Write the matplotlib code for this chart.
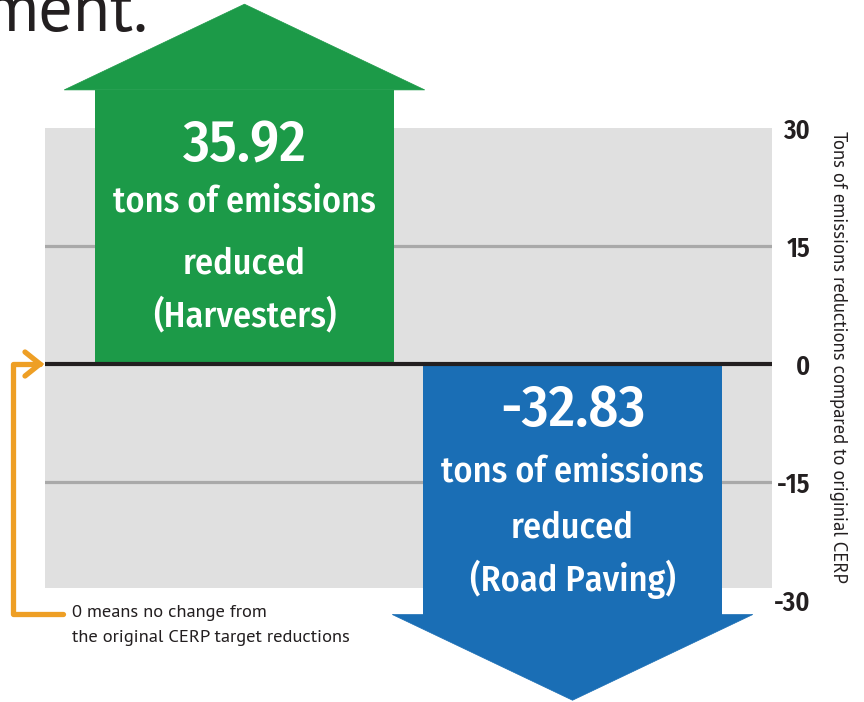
import matplotlib
matplotlib.use("Agg")
import matplotlib.pyplot as plt
from matplotlib.patches import Polygon, Rectangle
from matplotlib.transforms import blended_transform_factory
from matplotlib.lines import Line2D

# ---- data ----
categories = ["Harvesters", "Road Paving"]
values = [35.92, -32.83]
value_labels = ["35.92", "-32.83"]
yticks = [30, 15, 0, -15, -30]
ytick_labels = ["30", "15", "0", "-15", "-30"]
axis_title = "Tons of emissions reductions compared to originial CERP"
note_lines = ["0 means no change from", "the original CERP target reductions"]
title_fragment = "ment."

# ---- style ----
COND = ["Fira Sans Condensed", "DejaVu Sans"]
REG = ["PT Sans", "DejaVu Sans"]
colors = ["#1C9A48", "#1A6EB5"]
gray_bg = "#E0E0E0"
grid_c = "#A9A9A9"
dark = "#231F20"
orange = "#EE9F25"

W, H = 864, 702
fig = plt.figure(figsize=(W / 100, H / 100), dpi=100)
fig.patch.set_facecolor("white")

# main axes: x pixels 45..772, y pixels 128 (30) .. 600 (-30)
ax = fig.add_axes([45 / W, (H - 600) / H, (772 - 45) / W, (600 - 128) / H])
ax.set_facecolor("none")
ax.set_ylim(-30, 30)
ax.set_xlim(-0.608, 1.608)
for s in ax.spines.values():
    s.set_visible(False)
ax.set_xticks([])

# gray background panel
ax.add_patch(Rectangle((-0.608, -28.5), 2.216, 58.5, facecolor=gray_bg,
                       edgecolor="none", zorder=0))
for g in [15, -15]:
    ax.axhline(g, color=grid_c, lw=2.3, zorder=1)

# arrows
shaft_w = 0.911
head_w = 1.099
head_len = 10.9
shaft_frac = 0.97
xs = list(range(len(values)))
for x, v, c in zip(xs, values, colors):
    top = v * shaft_frac
    bars = ax.bar(x, top, width=shaft_w, bottom=0, color=c, zorder=2)
    for b in bars:
        b.set_clip_on(False)
    sgn = 1 if v > 0 else -1
    head = Polygon([(x - head_w / 2, top), (x + head_w / 2, top),
                    (x, top + sgn * head_len)], closed=True,
                   facecolor=c, edgecolor=c, lw=0.5, zorder=2, clip_on=False)
    ax.add_patch(head)

ax.axhline(0, color=dark, lw=3.0, zorder=3)

# right tick labels
ax.yaxis.tick_right()
ax.set_yticks(yticks)
ax.set_yticklabels(ytick_labels, fontfamily=COND, fontweight="semibold",
                   fontsize=19, color=dark)
ax.tick_params(axis="y", length=0, pad=27.5)
for lbl in ax.get_yticklabels():
    lbl.set_horizontalalignment("right")

# overlay axes in pixel coordinates for annotation/text
ov = fig.add_axes([0, 0, 1, 1], zorder=5)
ov.set_xlim(0, W)
ov.set_ylim(H, 0)
ov.axis("off")
ov.patch.set_visible(False)

# text inside arrows
tr = blended_transform_factory(ax.transData, ov.transData)
baselines = [[161, 212, 273, 326], [426, 482, 537, 591]]
for x, lab, cat, bl in zip(xs, value_labels, categories, baselines):
    lines = [lab, "tons of emissions", "reduced", "(" + cat + ")"]
    sizes = [42, 26, 26, 26]
    for t, s, b in zip(lines, sizes, bl):
        ov.text(x, b, t, transform=tr, ha="center", va="baseline",
                fontsize=s, fontfamily=COND, fontweight="medium",
                color="white", zorder=6)

# title fragment (cropped at the figure edge, as in the source)
ov.text(-16, 31, title_fragment, ha="left", va="baseline", fontsize=49,
        fontfamily=REG, color=dark, clip_on=False)

# right axis title
ov.text(838, 357, axis_title, rotation=-90, ha="center", va="center",
        fontsize=13.4, fontfamily=REG, color=dark)

# orange bracket
ov.add_line(Line2D([40, 13, 13, 63], [364, 364, 614, 614], color=orange,
                   lw=3.8, solid_capstyle="round", solid_joinstyle="round"))
ov.add_line(Line2D([25, 40, 25], [352, 364, 376], color=orange, lw=3.8,
                   solid_capstyle="round", solid_joinstyle="miter"))

for i, t in enumerate(note_lines):
    ov.text(72, 617 + i * 25, t, ha="left", va="baseline", fontsize=13.3,
            fontfamily=REG, color=dark)

fig.savefig("out.png", dpi=100)
